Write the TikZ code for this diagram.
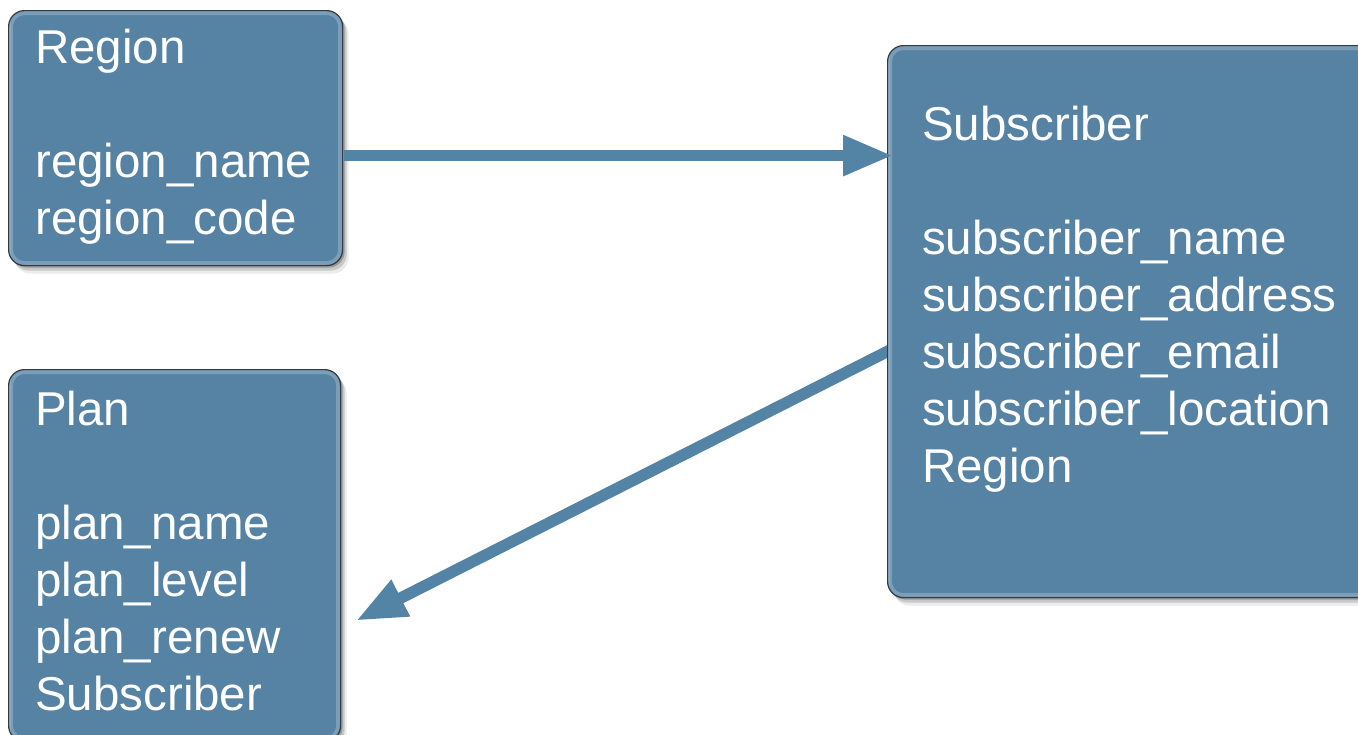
\documentclass[tikz,border=0pt]{standalone}
\usepackage{fontspec}
\setmainfont{Liberation Sans}
\usetikzlibrary{arrows.meta,shadows}
\definecolor{boxblue}{HTML}{5682A3}
\definecolor{arrowblue}{HTML}{5383A5}
\definecolor{boxedge}{HTML}{2E3A44}
\pgfdeclarelayer{background}
\pgfsetlayers{background,main}
\begin{document}
\begin{tikzpicture}[x=1pt,y=-1pt,
  entity/.style={draw=boxedge, line width=1.2pt, fill=boxblue, rounded corners=16pt,
    anchor=north west, inner sep=0pt,
    drop shadow={shadow xshift=2pt, shadow yshift=-2pt, fill=black, opacity=0.25},
    drop shadow={shadow xshift=4pt, shadow yshift=-5pt, fill=black, opacity=0.15},
    drop shadow={shadow xshift=6pt, shadow yshift=-8pt, fill=black, opacity=0.08},
    path picture={
      \draw[white, opacity=0.22, line width=9pt, rounded corners=16pt]
        (path picture bounding box.north west) rectangle (path picture bounding box.south east);
      \draw[white, opacity=0.15, line width=4pt]
        (path picture bounding box.north west) -- (path picture bounding box.south west);
    }},
  etext/.style={anchor=base west, inner sep=0pt, text=white,
    font=\fontsize{47.5}{57}\selectfont},
  conn/.style={draw=arrowblue, line width=11.5pt, -{Triangle[length=50pt,width=38pt]}}
]
\useasboundingbox (0,0) rectangle (1358,734);

\node[entity, minimum width=334pt, minimum height=255pt] (region) at (8,10) {};
\node[entity, minimum width=332pt, minimum height=372pt] (plan) at (8,369) {};
\node[entity, minimum width=490pt, minimum height=552pt] (sub) at (887,45) {};

\node[etext] (regiontext) at (35,63) {\vtop{\hbox{Region}\hbox{}\hbox{region\_name}\hbox{region\_code}}};
\node[etext] (plantext) at (35,425) {\vtop{\hbox{Plan}\hbox{}\hbox{plan\_name}\hbox{plan\_level}\hbox{plan\_renew}\hbox{Subscriber}}};
\node[etext] (subtext) at (922,140) {\vtop{\hbox{Subscriber}\hbox{}\hbox{subscriber\_name}\hbox{subscriber\_address}\hbox{subscriber\_email}\hbox{subscriber\_location}\hbox{Region}}};

\draw[conn] ([xshift=0.6pt,yshift=-17.5pt]region.east) -- ([xshift=6pt,yshift=166pt]sub.west);
\begin{pgfonlayer}{background}
\draw[conn] ([xshift=8pt,yshift=-26pt]sub.west) -- ([xshift=15pt,yshift=-65pt]plan.east);
\end{pgfonlayer}
\end{tikzpicture}
\end{document}
